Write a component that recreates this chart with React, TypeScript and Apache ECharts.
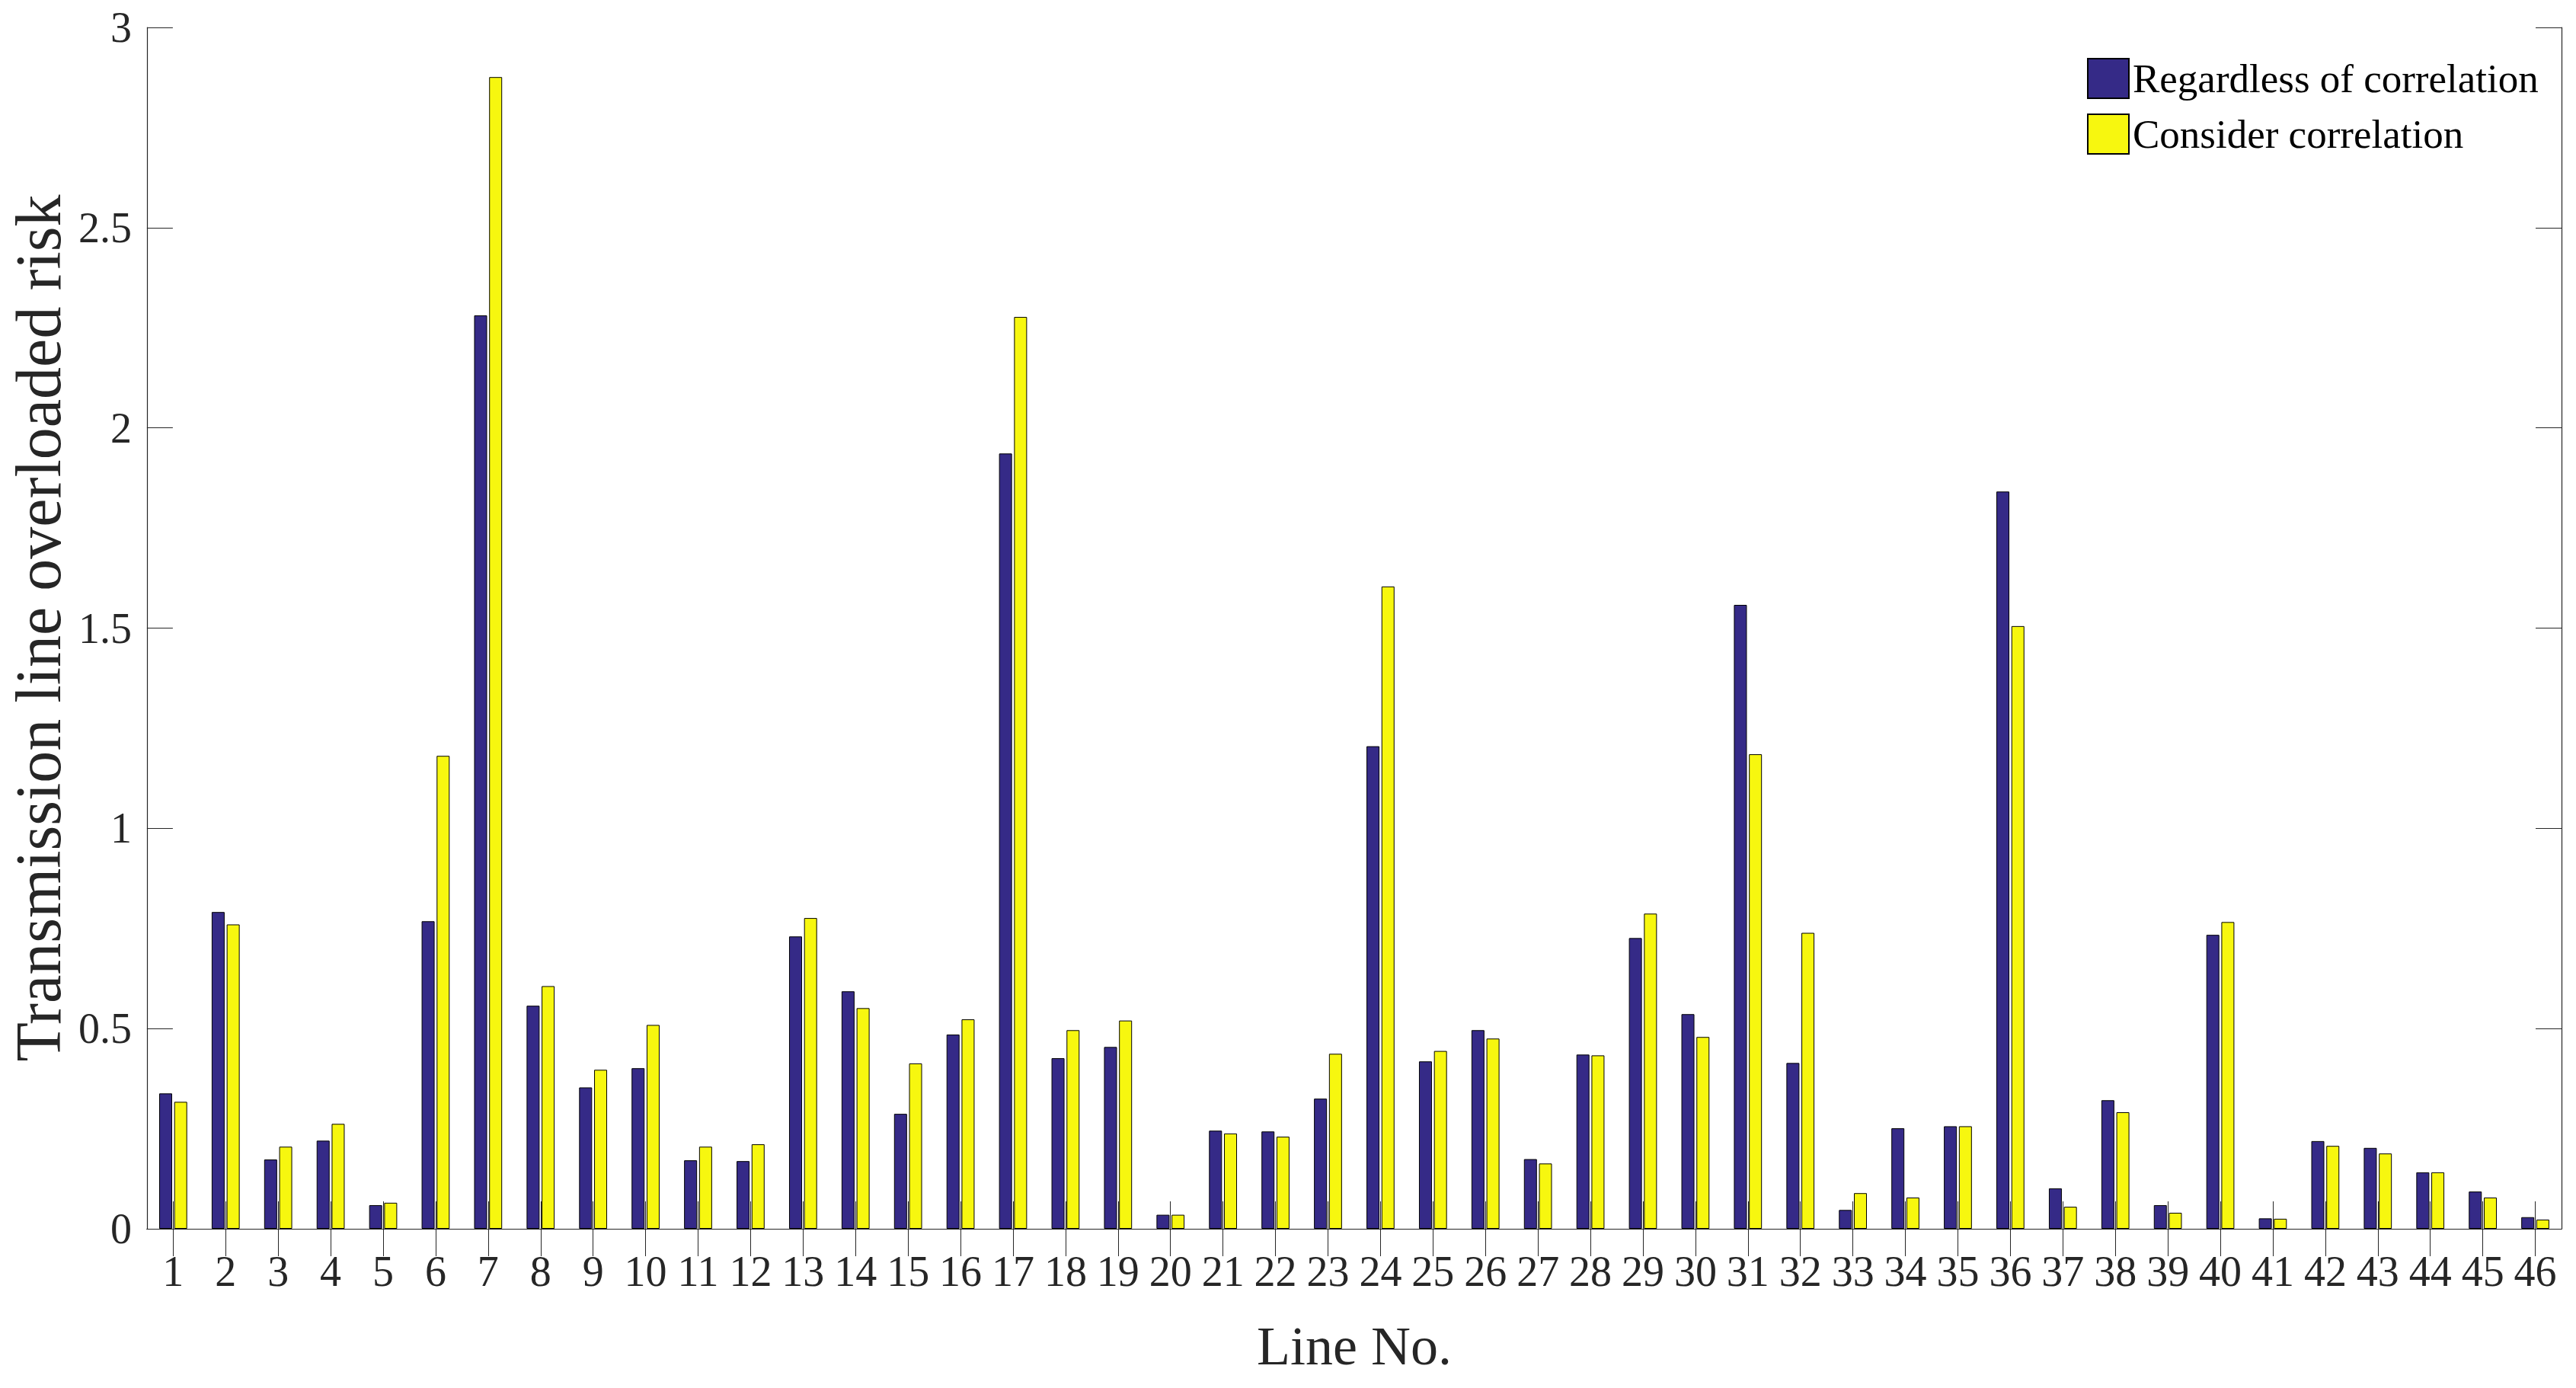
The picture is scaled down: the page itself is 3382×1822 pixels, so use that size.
import React, { useEffect, useRef } from "react";
import * as echarts from "echarts";

const lineNumbers = [
  "1", "2", "3", "4", "5", "6", "7", "8", "9", "10",
  "11", "12", "13", "14", "15", "16", "17", "18", "19", "20",
  "21", "22", "23", "24", "25", "26", "27", "28", "29", "30",
  "31", "32", "33", "34", "35", "36", "37", "38", "39", "40",
  "41", "42", "43", "44", "45", "46",
];

const regardlessOfCorrelation = [
  0.338, 0.791, 0.173, 0.22, 0.059, 0.768, 2.281, 0.557, 0.353, 0.401,
  0.171, 0.169, 0.73, 0.593, 0.287, 0.485, 1.936, 0.426, 0.454, 0.035,
  0.245, 0.243, 0.325, 1.205, 0.418, 0.496, 0.174, 0.435, 0.726, 0.536,
  1.558, 0.414, 0.047, 0.251, 0.256, 1.841, 0.101, 0.321, 0.059, 0.734,
  0.026, 0.219, 0.202, 0.141, 0.093, 0.029,
];

const considerCorrelation = [
  0.317, 0.76, 0.205, 0.262, 0.065, 1.181, 2.876, 0.606, 0.397, 0.509,
  0.205, 0.211, 0.776, 0.551, 0.413, 0.523, 2.277, 0.496, 0.52, 0.035,
  0.238, 0.23, 0.437, 1.604, 0.444, 0.475, 0.163, 0.433, 0.787, 0.479,
  1.185, 0.739, 0.089, 0.078, 0.256, 1.505, 0.055, 0.291, 0.04, 0.766,
  0.025, 0.207, 0.188, 0.141, 0.078, 0.023,
];

const seriesNames = ["Regardless of correlation", "Consider correlation"];
const yTicks = { min: 0, max: 3, interval: 0.5 };

const FONT = "'Liberation Serif', 'Times New Roman', serif";
const AXIS_COLOR = "#262626";

export default function App() {
  const ref = useRef<HTMLDivElement>(null);

  useEffect(() => {
    if (!ref.current) return;
    const chart = echarts.init(ref.current, null, { renderer: "svg" });
    const axisLine = { show: true, lineStyle: { color: AXIS_COLOR, width: 1.2 } };
    chart.setOption({
      animation: false,
      backgroundColor: "#ffffff",
      textStyle: { fontFamily: FONT },
      grid: { left: 192, top: 36, right: 19, bottom: 209, containLabel: false },
      legend: {
        orient: "vertical",
        left: 2740,
        top: 76,
        itemWidth: 54,
        itemHeight: 52,
        itemGap: 19,
        padding: 0,
        icon: "rect",
        textStyle: { fontFamily: FONT, fontSize: 53, color: "#000000" },
        data: seriesNames,
      },
      xAxis: [
        {
          type: "category",
          data: lineNumbers,
          position: "bottom",
          boundaryGap: true,
          axisLine,
          axisTick: {
            show: true,
            inside: true,
            alignWithLabel: true,
            length: 36,
            lineStyle: { color: AXIS_COLOR, width: 1 },
          },
          axisLabel: {
            interval: 0,
            margin: 28,
            fontFamily: FONT,
            fontSize: 56,
            color: AXIS_COLOR,
          },
          name: "Line No.",
          nameLocation: "middle",
          nameGap: 118,
          nameTextStyle: { fontFamily: FONT, fontSize: 72, color: AXIS_COLOR },
          splitLine: { show: false },
        },
        {
          type: "category",
          data: lineNumbers,
          position: "top",
          boundaryGap: true,
          axisLine,
          axisTick: {
            show: true,
            inside: true,
            alignWithLabel: true,
            length: 36,
            lineStyle: { color: AXIS_COLOR, width: 1 },
          },
          axisLabel: { show: false },
          splitLine: { show: false },
        },
      ],
      yAxis: [
        {
          type: "value",
          position: "left",
          min: yTicks.min,
          max: yTicks.max,
          interval: yTicks.interval,
          axisLine,
          axisTick: {
            show: true,
            inside: true,
            length: 34,
            lineStyle: { color: AXIS_COLOR, width: 1 },
          },
          axisLabel: {
            margin: 20,
            fontFamily: FONT,
            fontSize: 56,
            color: AXIS_COLOR,
          },
          splitLine: { show: false },
          name: "Transmission line overloaded risk",
          nameLocation: "middle",
          nameGap: 92,
          nameTextStyle: { fontFamily: FONT, fontSize: 84, color: AXIS_COLOR },
        },
        {
          type: "value",
          position: "right",
          min: yTicks.min,
          max: yTicks.max,
          interval: yTicks.interval,
          axisLine,
          axisTick: {
            show: true,
            inside: true,
            length: 34,
            lineStyle: { color: AXIS_COLOR, width: 1 },
          },
          axisLabel: { show: false },
          splitLine: { show: false },
        },
      ],
      series: [
        {
          name: seriesNames[0],
          type: "bar",
          xAxisIndex: 0,
          yAxisIndex: 0,
          data: regardlessOfCorrelation,
          barWidth: 17,
          barGap: "16%",
          itemStyle: { color: "#352A87", borderColor: "#000000", borderWidth: 1 },
        },
        {
          name: seriesNames[1],
          type: "bar",
          xAxisIndex: 0,
          yAxisIndex: 0,
          data: considerCorrelation,
          barWidth: 17,
          barGap: "16%",
          itemStyle: { color: "#F7F70F", borderColor: "#000000", borderWidth: 1 },
        },
      ],
    });
    return () => chart.dispose();
  }, []);

  return (
    <div
      ref={ref}
      style={{ position: "fixed", left: 0, top: 0, width: 3382, height: 1822, background: "#fff" }}
    />
  );
}
